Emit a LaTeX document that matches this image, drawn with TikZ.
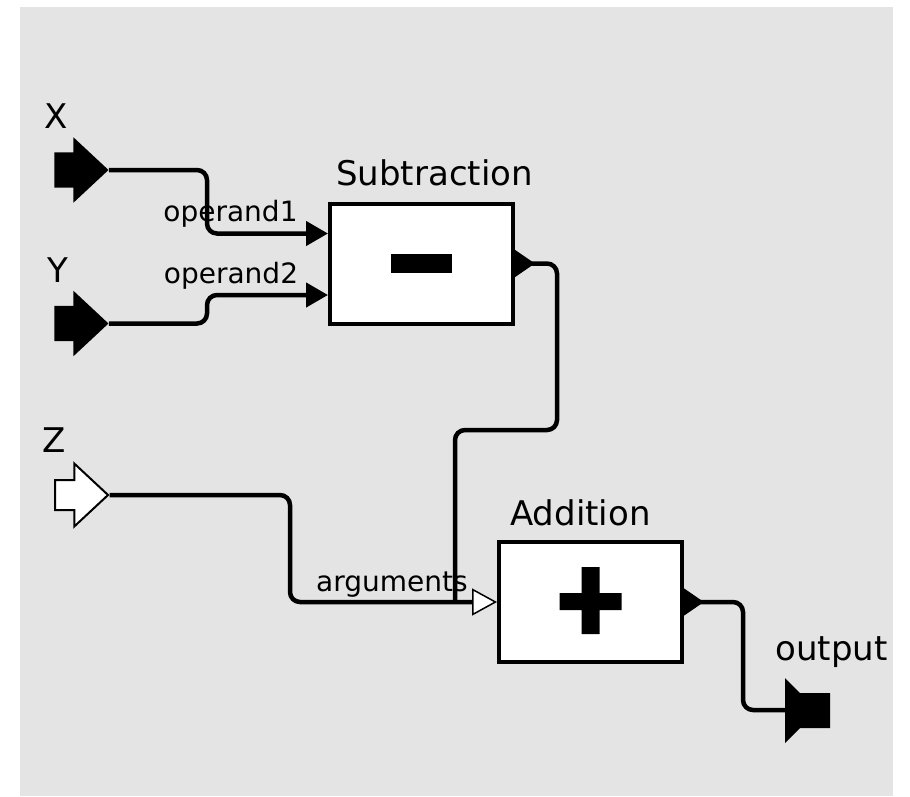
\documentclass[tikz,border=0pt]{standalone}
\usepackage{fontspec}
\setmainfont{DejaVu Sans}
\usepackage{tikz}
\usetikzlibrary{arrows.meta,positioning,calc,shapes.arrows}
\definecolor{canvas}{HTML}{E4E4E4}

\begin{document}
\begin{tikzpicture}[x=1pt, y=-1pt,
  wire/.style={line width=4.5pt, rounded corners=10pt},
  actor/.style={draw, line width=4pt, fill=white, minimum width=183pt, minimum height=120pt, inner sep=0pt},
  inport/.style={single arrow, fill=black, minimum height=54pt, inner xsep=0pt, inner ysep=17.5pt,
    single arrow head extend=15pt, single arrow head indent=0pt, single arrow tip angle=86},
  title/.style={font=\fontsize{34}{38}\selectfont, inner sep=0pt, anchor=base},
  portname/.style={font=\fontsize{28}{32}\selectfont, inner sep=0pt, anchor=base},
  intip/.style={-{Triangle[length=22pt, width=24pt]}},
  outtip/.style={{Triangle[reversed, length=20pt, width=26pt]}-}]
    % canvas
    \fill[white] (0,0) rectangle (910,796);
    \fill[canvas] (20,7) rectangle (893,796);
    % actors
    \node (sub) [actor] at (421.5,263.5) {};
    \fill (sub) ++(-31,-9.5) rectangle ++(61,19);
    \node (subtitle) [title] at (434.5,185) {Subtraction};
    \node (add) [actor] at (590.5,602) {};
    \fill (add) ++(-31,-9) rectangle ++(62,17)
          (add) ++(-9,-35) rectangle ++(18,67);
    \node (addtitle) [title] at (580.5,525) {Addition};
    % external ports
    \node (portx) [inport] at (72,170) {};
    \node (porty) [inport] at (72,323.5) {};
    \node (portz) [inport, fill=white, draw, line width=2pt, minimum height=53pt, inner ysep=14pt,
      single arrow head extend=16.5pt] at (73.5,495) {};
    \coordinate (output) at (785,710);
    \fill (output) ++(0,-32) -- ++(15,15) -- ++(30,0) -- ++(0,35) -- ++(-30,0) -- ++(-15,15) -- cycle;
    \node (xlabel) [title] at (56,128) {X};
    \node (ylabel) [title] at (57.5,282) {Y};
    \node (zlabel) [title] at (54,452) {Z};
    \node (outlabel) [title] at (831.5,660) {output};
    % port names
    \node (op1) [portname] at (230.5,221) {operand1};
    \node (op2) [portname] at (231,283) {operand2};
    \node (args) [portname] at (392,591) {arguments};
    % relations
    \draw[wire, intip] (portx.tip) -- (207,170) -- (207,233.5) -- ($(sub.west)+(0,-30)$);
    \draw[wire, intip] (porty.tip) -- (207,323.5) -- (207,295) -- ($(sub.west)+(0,31.5)$);
    \coordinate (join) at (455,602);
    \draw[wire, outtip] (sub.east) -- (557,263.5) -- (557,430) -- (455,430) -- (join);
    \draw[wire, -{Triangle[fill=white, length=25pt, width=27pt, line width=1.5pt]}]
      (portz.tip) -- (290,495) -- (290,602) -- (add.west);
    \draw[wire, outtip] (add.east) -- (743,602) -- (743,710) -- (output);
\end{tikzpicture}
\end{document}
